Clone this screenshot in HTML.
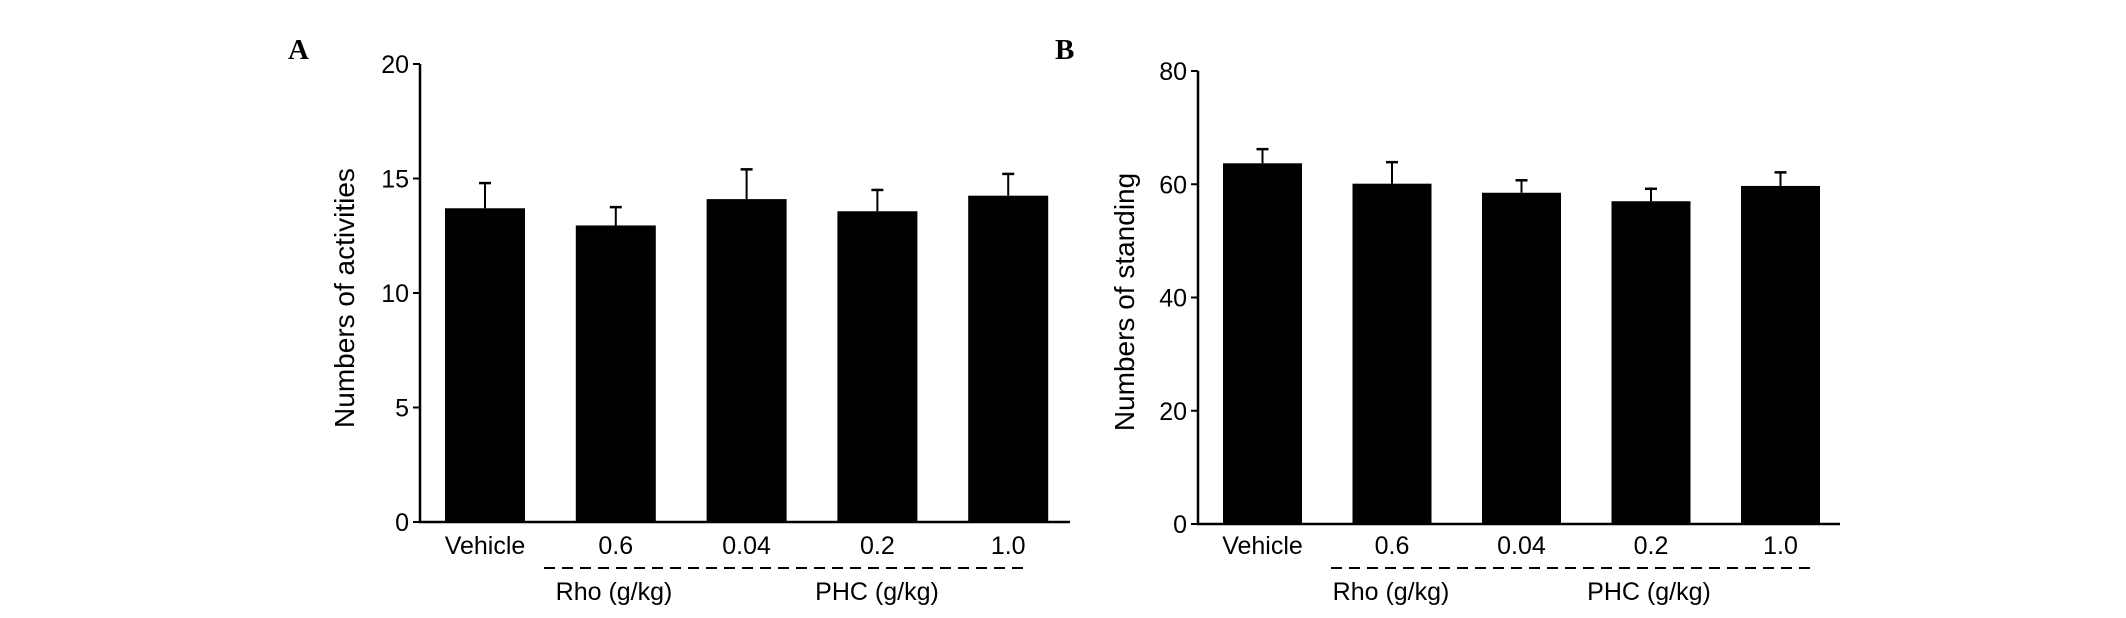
<!DOCTYPE html>
<html><head><meta charset="utf-8"><style>
html,body{margin:0;padding:0;background:#fff;}
svg{display:block;}
text{font-family:"Liberation Sans",sans-serif;fill:#000;}
</style></head><body>
<svg id="chart" width="2126" height="618" viewBox="0 0 2126 618" xmlns="http://www.w3.org/2000/svg">
<text x="288" y="59" style="font-family:'Liberation Serif',serif;font-weight:bold;font-size:29px">A</text>
<text x="1055" y="59" style="font-family:'Liberation Serif',serif;font-weight:bold;font-size:29px">B</text>
<g id="pa"></g>
<g id="pb"></g>
</svg>
<script>
const categories = ["Vehicle","0.6","0.04","0.2","1.0"];
const activitiesValues = [13.7, 12.95, 14.1, 13.57, 14.25];
const activitiesErrTop = [14.8, 13.75, 15.4, 14.5, 15.2];
const activitiesTicks = [0,5,10,15,20];
const standingValues = [63.7, 60.1, 58.5, 57.0, 59.7];
const standingErrTop = [66.2, 63.9, 60.7, 59.2, 62.1];
const standingTicks = [0,20,40,60,80];
const NS = "http://www.w3.org/2000/svg";
function mk(parent, tag, attrs, txt){const e=document.createElementNS(NS,tag);for(const k in attrs)e.setAttribute(k,attrs[k]);if(txt!==undefined)e.textContent=txt;parent.appendChild(e);return e;}
function draw(g, cfg, values, errs, ticks, yTitle, prefix){
  const yMax = ticks[ticks.length-1];
  const y = v => cfg.y0 - (v/yMax)*(cfg.y0-cfg.yTop);
  const xb = i => cfg.firstBar + i*cfg.step;
  let e;
  e=mk(g,'line',{x1:cfg.ax,y1:cfg.yTop,x2:cfg.ax,y2:cfg.y0+1,stroke:'#000','stroke-width':2.5});
   
  e=mk(g,'line',{x1:cfg.ax-1,y1:cfg.y0,x2:cfg.axEnd,y2:cfg.y0,stroke:'#000','stroke-width':2.5});
   
  ticks.forEach(t=>{
    e=mk(g,'line',{x1:cfg.ax-7,y1:y(t),x2:cfg.ax,y2:y(t),stroke:'#000','stroke-width':2});
     
    e=mk(g,'text',{x:cfg.ax-11,y:y(t)+9,'text-anchor':'end','font-size':25},String(t));
     
  });
  values.forEach((v,i)=>{
    const x=xb(i), cx=x+cfg.bw/2;
    e=mk(g,'line',{x1:cx,y1:y(errs[i]),x2:cx,y2:y(v),stroke:'#000','stroke-width':2});
     
    e=mk(g,'line',{x1:cx-6,y1:y(errs[i]),x2:cx+6,y2:y(errs[i]),stroke:'#000','stroke-width':2.5});
     
    e=mk(g,'rect',{x:x,y:y(v),width:cfg.bw,height:cfg.y0-y(v),fill:'#000'});
     
    e=mk(g,'text',{x:cx,y:554,'text-anchor':'middle','font-size':25},categories[i]);
     
  });
  e=mk(g,'line',{x1:cfg.dashStart,y1:568,x2:cfg.dashEnd,y2:568,stroke:'#000','stroke-width':2,'stroke-dasharray':'11,7'});
   
  e=mk(g,'text',{x:cfg.rho,y:600,'text-anchor':'middle','font-size':25},'Rho (g/kg)');
   
  e=mk(g,'text',{x:cfg.phc,y:600,'text-anchor':'middle','font-size':25},'PHC (g/kg)');
   
  e=mk(g,'text',{x:0,y:0,'text-anchor':'middle','font-size':28,transform:`translate(${cfg.titleX},${cfg.titleY}) rotate(-90)`},yTitle);
   
}
draw(document.getElementById('pa'),{ax:420,axEnd:1070,yTop:64,y0:522,firstBar:445,step:130.8,bw:80,dashStart:544,dashEnd:1029,rho:614,phc:877,titleX:354,titleY:298},activitiesValues,activitiesErrTop,activitiesTicks,'Numbers of activities','activities');
draw(document.getElementById('pb'),{ax:1198,axEnd:1840,yTop:71,y0:524,firstBar:1223,step:129.5,bw:79,dashStart:1331,dashEnd:1813,rho:1391,phc:1649,titleX:1134,titleY:302},standingValues,standingErrTop,standingTicks,'Numbers of standing','standing');
</script>
</body></html>
